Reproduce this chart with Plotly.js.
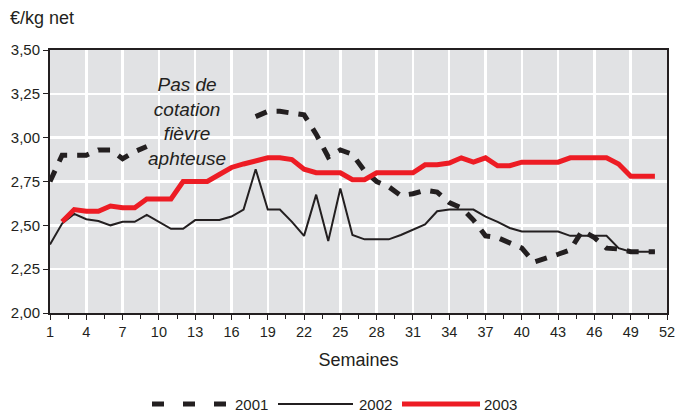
<!DOCTYPE html>
<html>
<head>
<meta charset="utf-8">
<script src="https://cdn.plot.ly/plotly-3.0.1.min.js"></script>
<style>html,body{margin:0;padding:0;background:#fff;}#chart{width:677px;height:413px;}</style>
</head>
<body>
<div id="chart"></div>
<script>
// Weeks 1..51
const weeks = Array.from({length: 51}, (_, i) => i + 1);

// 2001 (dashed) — gap weeks 10-17: "Pas de cotation fièvre aphteuse"
const v2001 = [2.75, 2.90, 2.90, 2.90, 2.93, 2.93, 2.88, 2.92, 2.95,
  null, null, null, null, null, null, null, null,
  3.12, 3.15, 3.15, 3.14, 3.13, 3.02, 2.89, 2.93, 2.905, 2.81, 2.75, 2.72, 2.67,
  2.68, 2.70, 2.69, 2.63, 2.60, 2.53, 2.44, 2.43, 2.40, 2.37, 2.29,
  2.31, 2.335, 2.36, 2.47, 2.43, 2.37, 2.365, 2.35, 2.35, 2.35];

// 2002 (thin black)
const v2002 = [2.39, 2.51, 2.565, 2.535, 2.525, 2.50, 2.52, 2.52, 2.56, 2.52,
  2.48, 2.48, 2.53, 2.53, 2.53, 2.55, 2.59, 2.82, 2.59, 2.59,
  2.52, 2.44, 2.675, 2.41, 2.71, 2.445, 2.42, 2.42, 2.42, 2.445,
  2.475, 2.505, 2.58, 2.59, 2.59, 2.59, 2.55, 2.52, 2.485, 2.465,
  2.465, 2.465, 2.465, 2.44, 2.44, 2.44, 2.44, 2.37, 2.35, 2.35, 2.35];

// 2003 (thick red), starts week 2
const v2003 = [null, 2.52, 2.59, 2.58, 2.58, 2.61, 2.60, 2.60, 2.65, 2.65,
  2.65, 2.75, 2.75, 2.75, 2.79, 2.83, 2.85, 2.87, 2.885, 2.885,
  2.875, 2.82, 2.80, 2.80, 2.80, 2.76, 2.76, 2.80, 2.80, 2.80,
  2.80, 2.845, 2.845, 2.855, 2.885, 2.86, 2.885, 2.84, 2.84, 2.86,
  2.86, 2.86, 2.86, 2.885, 2.885, 2.885, 2.885, 2.85, 2.78, 2.78, 2.78];

const seriesNames = ['2001', '2002', '2003'];
const yTicks = [2.00, 2.25, 2.50, 2.75, 3.00, 3.25, 3.50];
const xTicks = [1, 4, 7, 10, 13, 16, 19, 22, 25, 28, 31, 34, 37, 40, 43, 46, 49, 52];
const noteText = 'Pas de<br>cotation<br>fièvre<br>aphteuse';
const yUnit = '€/kg net';
const xTitle = 'Semaines';

const dark = '#231f20';
const red = '#ed1c24';
const font = 'Liberation Sans, Arial, sans-serif';

const traces = [
  {x: weeks, y: v2001, name: seriesNames[0], mode: 'lines', connectgaps: false,
   line: {color: dark, width: 5, dash: '12px,10px'}, showlegend: false},
  {x: weeks, y: v2002, name: seriesNames[1], mode: 'lines',
   line: {color: dark, width: 2}, showlegend: false},
  {x: weeks, y: v2003, name: seriesNames[2], mode: 'lines',
   line: {color: red, width: 5}, showlegend: false}
];

// legend drawn as layout shapes + annotations (paper coords)
const legY = 1 - (404 - 50) / 263; // paper y of legend row
function px(x) { return (x - 50) / 617; }

const layout = {
  width: 677, height: 413,
  margin: {l: 50, r: 10, t: 50, b: 100},
  paper_bgcolor: '#ffffff',
  plot_bgcolor: '#e1e2e4',
  separators: ', ',
  showlegend: false,
  font: {family: font, color: dark, size: 14},
  xaxis: {
    range: [1, 52], tickvals: xTicks, ticktext: xTicks.map(String),
    showgrid: true, gridcolor: '#ffffff', gridwidth: 2.5,
    zeroline: false, showline: true, linecolor: dark, linewidth: 2, mirror: true,
    ticks: 'outside', ticklen: 5, tickwidth: 1, tickcolor: dark,
    tickfont: {size: 14.5, color: dark, family: font},
    minor: {tick0: 1, dtick: 1.5, ticks: 'outside', ticklen: 4, tickwidth: 1, tickcolor: dark, showgrid: false},
    title: {text: xTitle, font: {size: 18, color: dark, family: font}, standoff: 14},
    fixedrange: true
  },
  yaxis: {
    range: [2.0, 3.5], tickvals: yTicks, tickformat: '.2f',
    showgrid: true, gridcolor: '#ffffff', gridwidth: 2.5,
    zeroline: false, showline: true, linecolor: dark, linewidth: 2, mirror: true,
    ticks: 'outside', ticklen: 5, tickwidth: 1, tickcolor: dark,
    tickfont: {size: 15, color: dark, family: font},
    fixedrange: true
  },
  annotations: [
    {x: 12.3, y: 3.095, xref: 'x', yref: 'y', text: noteText, showarrow: false,
     align: 'center', xanchor: 'center', yanchor: 'middle',
     font: {size: 19, color: dark, family: font, style: 'italic'}},
    {x: 8, y: 18, xref: 'paper', yref: 'paper', text: yUnit, showarrow: false,
     xanchor: 'left', yanchor: 'middle', font: {size: 18, color: dark, family: font}},
    {x: px(233), y: legY, xref: 'paper', yref: 'paper', text: seriesNames[0], showarrow: false,
     xanchor: 'left', yanchor: 'middle', font: {size: 15, color: dark, family: font}},
    {x: px(357), y: legY, xref: 'paper', yref: 'paper', text: seriesNames[1], showarrow: false,
     xanchor: 'left', yanchor: 'middle', font: {size: 15, color: dark, family: font}},
    {x: px(482), y: legY, xref: 'paper', yref: 'paper', text: seriesNames[2], showarrow: false,
     xanchor: 'left', yanchor: 'middle', font: {size: 15, color: dark, family: font}}
  ],
  shapes: [
    {type: 'line', xref: 'paper', yref: 'paper', x0: px(152), x1: px(226), y0: legY, y1: legY,
     line: {color: dark, width: 5, dash: '12px,19px'}},
    {type: 'line', xref: 'paper', yref: 'paper', x0: px(278), x1: px(353), y0: legY, y1: legY,
     line: {color: dark, width: 2}},
    {type: 'line', xref: 'paper', yref: 'paper', x0: px(402), x1: px(480), y0: legY, y1: legY,
     line: {color: red, width: 5}}
  ]
};
// fix unit label position in pixels -> paper coords
layout.annotations[1].x = (8 - 50) / 617;
layout.annotations[1].y = 1 + (50 - 18) / 263;

Plotly.newPlot('chart', traces, layout, {displayModeBar: false, staticPlot: true});
</script>
</body>
</html>
